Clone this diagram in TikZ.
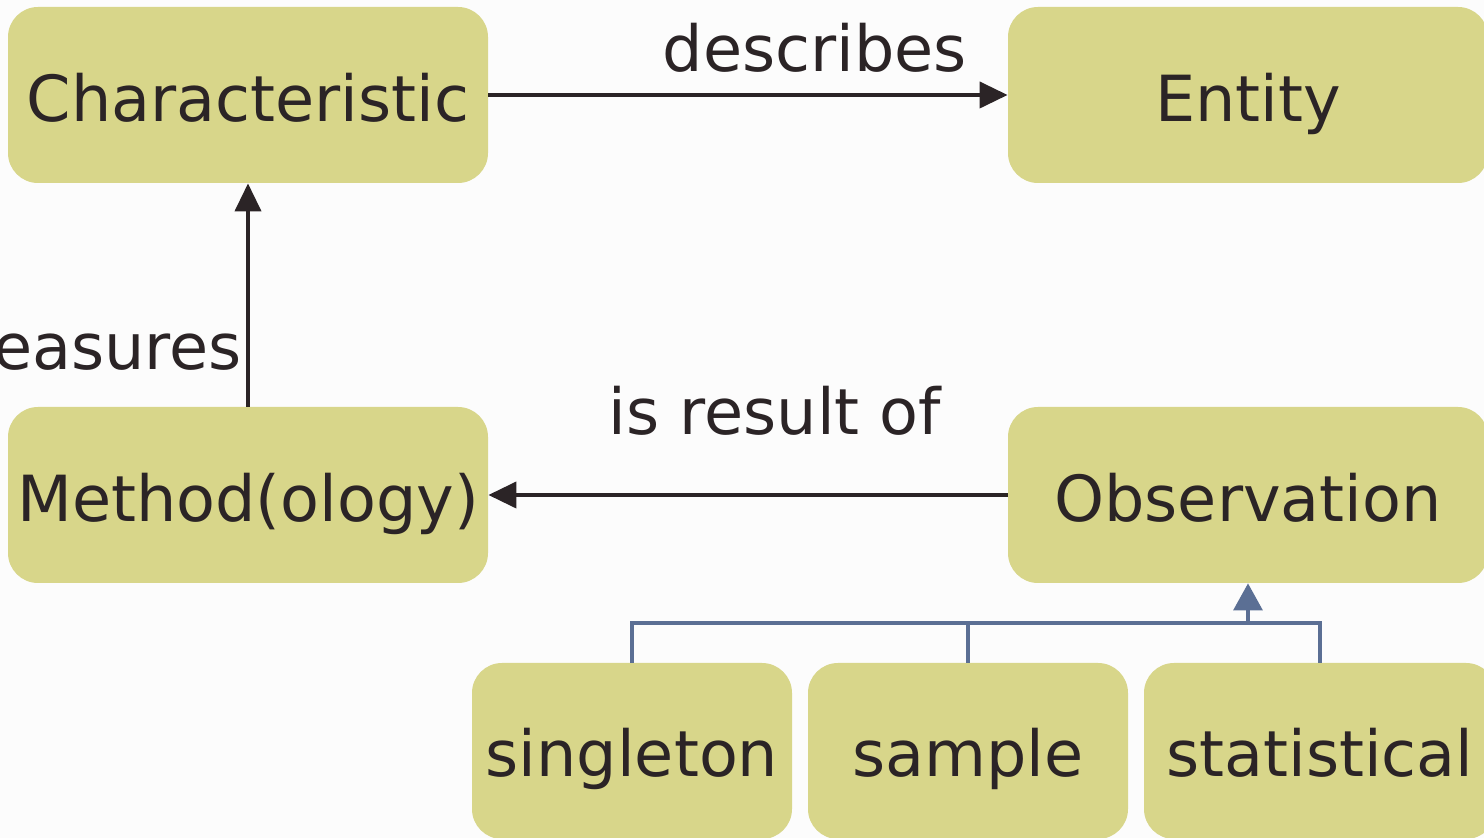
\documentclass[tikz,border=0pt]{standalone}
\usepackage{fontspec}
\setmainfont{DejaVu Sans}
\usetikzlibrary{arrows.meta}
\definecolor{boxfill}{HTML}{D8D68A}
\definecolor{ink}{HTML}{2B2426}
\definecolor{linkblue}{HTML}{5B6F94}
\definecolor{bg}{HTML}{FCFCFC}
\begin{document}
\begin{tikzpicture}[x=0.5pt,y=-0.5pt,
  box/.style={fill=boxfill, rounded corners=15pt, minimum width=240pt, minimum height=88pt,
    inner sep=0pt, text=ink, font=\fontsize{31.8}{38}\selectfont, text height=27pt, text depth=0pt},
  smallbox/.style={box, minimum width=160pt, text height=26pt},
  lbl/.style={text=ink, font=\fontsize{31.8}{38}\selectfont, inner sep=0pt},
  arr/.style={draw=ink, line width=2pt, -{Triangle[length=14pt,width=13pt]}},
  blueline/.style={draw=linkblue, line width=1.6pt},
  bluearr/.style={blueline, -{Triangle[length=13.5pt,width=14.5pt]}}]
\useasboundingbox (0,0) rectangle (1484,838);
\fill[bg] (0,0) rectangle (1484,838);
\clip (0,0) rectangle (1484,838);
\node[box] (char) at (248,95) {Characteristic};
\node[box] (entity) at (1248,95) {Entity};
\node[box] (meth) at (248,495) {Method(ology)};
\node[box] (obs) at (1248,495) {Observation};
\node[smallbox] (single) at (632,751) {singleton};
\node[smallbox] (sample) at (968,751) {sample};
\node[smallbox, minimum width=176pt] (stat) at (1320,751) {statistical};
\coordinate (junc) at (1248,623);
\draw[arr] (char.east) -- node[lbl, pos=0.629, anchor=base, yshift=11.5pt] {describes} (entity.west);
\draw[arr] (meth.north) -- node[lbl, pos=0.165, anchor=base east, xshift=-2pt] {easures} (char.south);
\draw[arr] (obs.west) -- node[lbl, pos=0.448, anchor=base, yshift=30pt] {is result of} (meth.east);
\draw[blueline] (single.north) |- (junc);
\draw[blueline] (sample.north) |- (junc);
\draw[blueline] (stat.north) |- (junc);
\draw[bluearr] (junc) -- (obs.south);
\end{tikzpicture}
\end{document}
